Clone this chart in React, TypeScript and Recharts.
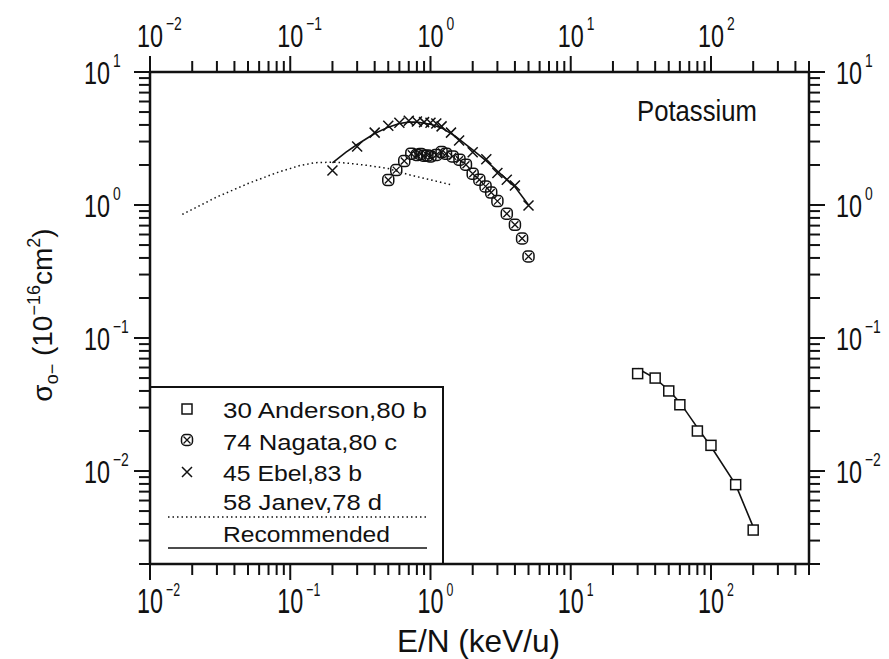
import React from "react";
import { ComposedChart, Scatter, XAxis, YAxis } from "recharts";

// Potassium, sigma(0-) vs E/N
const andersonEnergy = [30, 40, 50, 60, 80, 100, 150, 200];
const andersonSigma = [0.054, 0.05, 0.04, 0.0315, 0.02, 0.0156, 0.0079, 0.0036];

const nagataEnergy = [0.5, 0.57, 0.65, 0.73, 0.8, 0.85, 0.9, 0.95, 1.0, 1.1, 1.2, 1.29, 1.44, 1.61, 1.79, 2.0, 2.23, 2.47, 2.71, 3.0, 3.5, 4.0, 4.5, 5.0];
const nagataSigma = [1.54, 1.83, 2.14, 2.43, 2.38, 2.42, 2.35, 2.36, 2.32, 2.38, 2.5, 2.43, 2.32, 2.19, 2.01, 1.72, 1.55, 1.38, 1.24, 1.07, 0.86, 0.71, 0.56, 0.41];

const ebelEnergy = [0.2, 0.3, 0.4, 0.5, 0.6, 0.7, 0.8, 0.9, 1.0, 1.1, 1.2, 1.4, 1.6, 2.0, 2.5, 3.0, 3.5, 4.0, 5.0];
const ebelSigma = [1.82, 2.75, 3.5, 3.95, 4.15, 4.3, 4.25, 4.2, 4.15, 4.1, 3.9, 3.5, 3.05, 2.49, 2.21, 1.74, 1.55, 1.4, 0.99];

const janevEnergy = [0.017, 0.03, 0.05, 0.08, 0.117, 0.15, 0.2, 0.25, 0.35, 0.5, 0.7, 1.1, 1.4];
const janevSigma = [0.85, 1.15, 1.45, 1.75, 1.98, 2.08, 2.1, 2.07, 1.99, 1.88, 1.69, 1.51, 1.42];

const recLowEnergy = [0.2, 0.25, 0.3, 0.4, 0.5, 0.6, 0.7, 0.8, 1.0, 1.2, 1.5, 2.0, 2.5, 3.0, 3.5, 4.0, 5.0];
const recLowSigma = [2.07, 2.5, 2.85, 3.45, 3.85, 4.1, 4.2, 4.2, 4.05, 3.8, 3.3, 2.6, 2.15, 1.8, 1.56, 1.37, 1.0];

const recHighEnergy = [30, 40, 50, 60, 80, 100, 150, 200];
const recHighSigma = [0.059, 0.0497, 0.0405, 0.0328, 0.0212, 0.0153, 0.0079, 0.0038];

const xDecades = [0.01, 0.1, 1, 10, 100];
const yDecades = [0.001, 0.01, 0.1, 1, 10];
const mantissas = [1, 2, 3, 4, 5, 6, 7, 8, 9];
const X_DOMAIN: [number, number] = [0.01, 500];
const Y_DOMAIN: [number, number] = [0.002, 10];

const legendLabels = ["30 Anderson,80 b", "74 Nagata,80 c", "45 Ebel,83 b", "58 Janev,78 d", "Recommended"];

const INK = "#111";
const FONT = "'Liberation Sans', Arial, sans-serif";

const pairs = (xs: number[], ys: number[]) => xs.map((x, i) => ({ x, y: ys[i] }));

const inDomain = (d: [number, number]) => (v: number) => v >= d[0] * 0.999 && v <= d[1] * 1.001;
const xTicks = xDecades.flatMap((d) => mantissas.map((m) => +(d * m).toPrecision(3))).filter(inDomain(X_DOMAIN));
const yTicks = yDecades.flatMap((d) => mantissas.map((m) => +(d * m).toPrecision(3))).filter(inDomain(Y_DOMAIN));

const isMajor = (v: number) => {
  const l = Math.log10(v);
  return Math.abs(l - Math.round(l)) < 1e-6;
};

// "10" with a raised exponent; squeezed horizontally like the plotter font
function PowerLabel({ left, base, exp, size = 32 }: { left: number; base: number; exp: number; size?: number }) {
  const sup = exp < 0 ? `\u2212${-exp}` : `${exp}`;
  const sx = 26 / (1.112 * size);
  return (
    <g transform={`translate(${left},${base}) scale(${sx.toFixed(3)},1)`}>
      <text fontFamily={FONT} fill={INK} fontSize={size}>
        <tspan x={0} y={0}>10</tspan>
        <tspan x={29 / sx} y={-17} fontSize={19}>{sup}</tspan>
      </text>
    </g>
  );
}

function XTick(props: any) {
  const { x, y, payload, side } = props;
  const v = payload.value;
  const major = isMajor(v);
  const dir = side === "top" ? -1 : 1;
  const len = major ? 16 : 11;
  return (
    <g>
      <line x1={x} x2={x} y1={y} y2={y + dir * len} stroke={INK} strokeWidth={2} />
      {major && (
        <PowerLabel left={x - 13} base={side === "top" ? y - 25 : y + 49} exp={Math.round(Math.log10(v))} size={side === "top" ? 32 : 36} />
      )}
    </g>
  );
}

function YTick(props: any) {
  const { x, y, payload, side } = props;
  const v = payload.value;
  const major = isMajor(v);
  const dir = side === "left" ? -1 : 1;
  const len = major ? 16 : 11;
  return (
    <g>
      <line x1={x} x2={x + dir * len} y1={y} y2={y} stroke={INK} strokeWidth={2} />
      {major && <PowerLabel left={side === "left" ? x - 66 : x + 27} base={y + 12} exp={Math.round(Math.log10(v))} />}
    </g>
  );
}

function SquareMark({ cx, cy }: any) {
  return <rect x={cx - 5} y={cy - 5} width={10} height={10} fill="#fff" stroke={INK} strokeWidth={1.5} />;
}

function CrossBoxMark({ cx, cy }: any) {
  return (
    <g>
      <rect x={cx - 5.5} y={cy - 5.5} width={11} height={11} rx={4} fill="none" stroke={INK} strokeWidth={1.5} />
      <path d={`M${cx - 3.5},${cy - 3.5}L${cx + 3.5},${cy + 3.5}M${cx + 3.5},${cy - 3.5}L${cx - 3.5},${cy + 3.5}`} stroke={INK} strokeWidth={1.3} />
    </g>
  );
}

function XMark({ cx, cy }: any) {
  return <path d={`M${cx - 5},${cy - 5}L${cx + 5},${cy + 5}M${cx + 5},${cy - 5}L${cx - 5},${cy + 5}`} stroke={INK} strokeWidth={1.5} />;
}

const NoMark = () => <g />;

function Overlay() {
  const rowY = [418, 450, 481, 510, 542];
  const widths = [204, 174, 139, 159, 167];
  return (
    <svg width={889} height={659} style={{ position: "absolute", left: 0, top: 0, pointerEvents: "none" }} fontFamily={FONT}>
      <text x={637} y={121} fontSize={30} fill={INK} textLength={120} lengthAdjust="spacingAndGlyphs">
        Potassium
      </text>
      <text x={397} y={652} fontSize={32} fill={INK} textLength={163} lengthAdjust="spacingAndGlyphs">
        E/N (keV/u)
      </text>
      <text transform="translate(52,315) rotate(-90)" textAnchor="middle" fontSize={28} fill={INK}>
        <tspan>σ</tspan>
        <tspan fontSize={18} dy={6}>o−</tspan>
        <tspan dy={-6}> (10</tspan>
        <tspan fontSize={18} dy={-12}>−16</tspan>
        <tspan dy={12}>cm</tspan>
        <tspan fontSize={18} dy={-12}>2</tspan>
        <tspan dy={12}>)</tspan>
      </text>

      {/* legend box */}
      <path d="M150,387 L443,387 L443,564" fill="none" stroke={INK} strokeWidth={2} />
      <SquareMark cx={187} cy={409} />
      <CrossBoxMark cx={187} cy={440} />
      <XMark cx={187} cy={472} />
      {legendLabels.map((t, i) => (
        <text key={t} x={223} y={rowY[i]} fontSize={22} fill={INK} textLength={widths[i]} lengthAdjust="spacingAndGlyphs">
          {t}
        </text>
      ))}
      <line x1={168} x2={427} y1={517} y2={517} stroke={INK} strokeWidth={1.5} strokeDasharray="1.5 3" />
      <line x1={168} x2={427} y1={548} y2={548} stroke={INK} strokeWidth={1.6} />
    </svg>
  );
}

// axis sizes are reserved inside the margins so the plot box lands at 150..809 x 72..564
const AXIS_H = 40;
const AXIS_W = 60;

export default function App() {
  const axisLine = { stroke: INK, strokeWidth: 2.5 };
  return (
    <div style={{ position: "absolute", left: 0, top: 0, width: 889, height: 659, background: "#fff" }}>
      <ComposedChart width={889} height={659} margin={{ top: 72 - AXIS_H, right: 80 - AXIS_W, bottom: 95 - AXIS_H, left: 150 - AXIS_W }}>
        <XAxis xAxisId="b" orientation="bottom" type="number" dataKey="x" scale="log" domain={X_DOMAIN} allowDataOverflow
          ticks={xTicks} interval={0} height={AXIS_H} tickSize={0} tickMargin={0} tickLine={false} axisLine={axisLine}
          tick={<XTick side="bottom" />} />
        <XAxis xAxisId="t" orientation="top" type="number" dataKey="x" scale="log" domain={X_DOMAIN} allowDataOverflow
          ticks={xTicks} interval={0} height={AXIS_H} tickSize={0} tickMargin={0} tickLine={false} axisLine={axisLine}
          tick={<XTick side="top" />} />
        <YAxis yAxisId="l" orientation="left" type="number" dataKey="y" scale="log" domain={Y_DOMAIN} allowDataOverflow
          ticks={yTicks} interval={0} width={AXIS_W} tickSize={0} tickMargin={0} tickLine={false} axisLine={axisLine}
          tick={<YTick side="left" />} />
        <YAxis yAxisId="r" orientation="right" type="number" dataKey="y" scale="log" domain={Y_DOMAIN} allowDataOverflow
          ticks={yTicks} interval={0} width={AXIS_W} tickSize={0} tickMargin={0} tickLine={false} axisLine={axisLine}
          tick={<YTick side="right" />} />

        <Scatter xAxisId="t" yAxisId="r" data={pairs(recHighEnergy, recHighSigma)} shape={NoMark} isAnimationActive={false} />
        <Scatter xAxisId="b" yAxisId="l" data={pairs(janevEnergy, janevSigma)} shape={NoMark}
          line={{ stroke: INK, strokeWidth: 1.5, strokeDasharray: "1.5 3" }} lineType="joint" isAnimationActive={false} />
        <Scatter xAxisId="b" yAxisId="l" data={pairs(recLowEnergy, recLowSigma)} shape={NoMark}
          line={{ stroke: INK, strokeWidth: 1.6 }} lineType="joint" isAnimationActive={false} />
        <Scatter xAxisId="b" yAxisId="l" data={pairs(recHighEnergy, recHighSigma)} shape={NoMark}
          line={{ stroke: INK, strokeWidth: 1.6 }} lineType="joint" isAnimationActive={false} />
        <Scatter xAxisId="b" yAxisId="l" data={pairs(andersonEnergy, andersonSigma)} shape={SquareMark} isAnimationActive={false} />
        <Scatter xAxisId="b" yAxisId="l" data={pairs(nagataEnergy, nagataSigma)} shape={CrossBoxMark} isAnimationActive={false} />
        <Scatter xAxisId="b" yAxisId="l" data={pairs(ebelEnergy, ebelSigma)} shape={XMark} isAnimationActive={false} />
      </ComposedChart>
      <Overlay />
    </div>
  );
}
